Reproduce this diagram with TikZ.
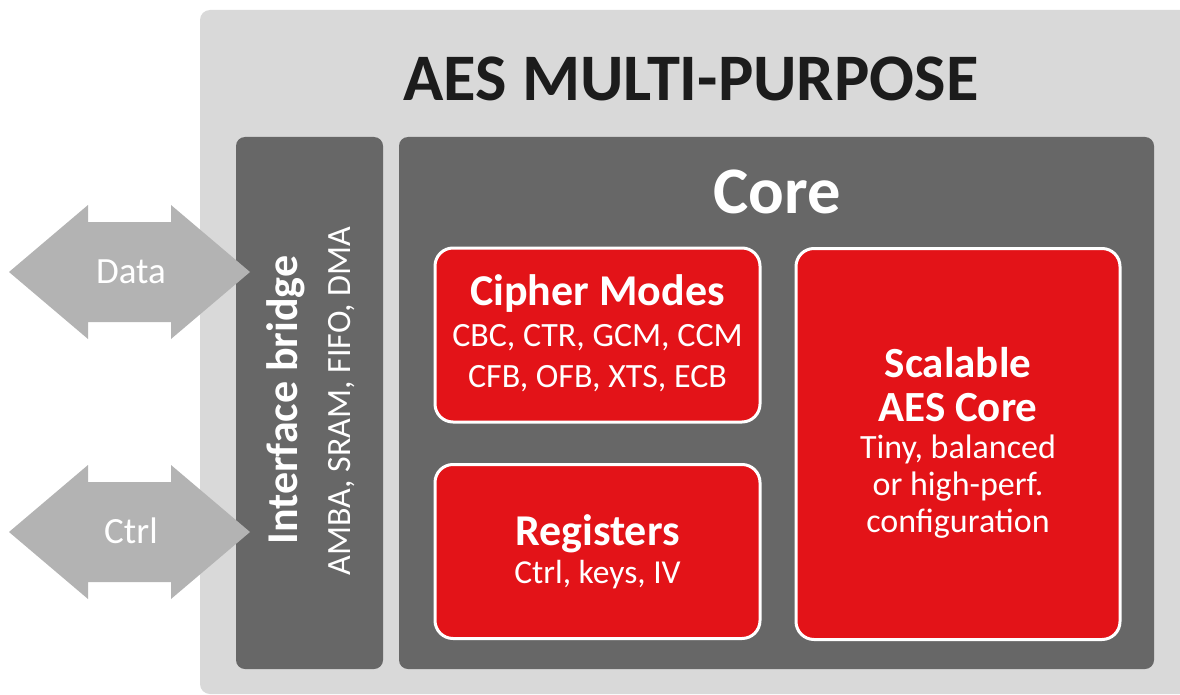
\documentclass[tikz,border=0pt]{standalone}
\usepackage{fontspec}
\setmainfont{Carlito}
\definecolor{panel}{HTML}{D9D9D9}
\definecolor{block}{HTML}{676767}
\definecolor{accent}{HTML}{E31318}
\definecolor{port}{HTML}{B3B3B3}
\definecolor{heading}{HTML}{1C1C1C}
\newcommand{\fs}[2]{\fontsize{#1}{#2}\selectfont}
\tikzset{
  darkbox/.style={fill=block, draw=none, rounded corners=9pt, inner sep=0pt},
  redbox/.style={fill=accent, draw=white, line width=3pt, rounded corners=18pt, inner sep=0pt},
  boxtext/.style={text=white, align=center, anchor=base, inner sep=0pt},
  porttext/.style={text=white, font=\fs{37}{40}, anchor=base, inner sep=0pt},
}
\begin{document}
\begin{tikzpicture}[x=1pt, y=-1pt]
  \useasboundingbox (0,0) rectangle (1180,695);
  \clip (0,0) rectangle (1180,695);

  % outer light panel
  \fill[panel, rounded corners=10pt] (200,10) rectangle (1200,694);
  \node[text=heading, font=\fs{66.5}{70}\bfseries, anchor=base, inner sep=0pt]
    (title) at (691,101) {AES MULTI-PURPOSE};

  % interface bridge column
  \node[darkbox, minimum width=147pt, minimum height=532pt] (bridge) at (309.5,403) {};
  \node[rotate=90, text=white, font=\fs{44}{46}\bfseries, anchor=base, inner sep=0pt]
    (bridgetitle) at (297,400) {Interface bridge};
  \node[rotate=90, text=white, font=\fs{34}{40}, anchor=base, inner sep=0pt]
    (bridgesub) at (350,401) {AMBA, SRAM, FIFO, DMA};

  % core block
  \node[darkbox, minimum width=755pt, minimum height=532pt] (core) at (776.5,403) {};
  \node[text=white, font=\fs{66.5}{70}\bfseries, anchor=base, inner sep=0pt]
    (coretitle) at (777,213) {Core};

  % red function blocks (text nodes are placed by the baseline of their last line)
  \node[redbox, minimum width=325pt, minimum height=174pt] (modes) at (597.5,335) {};
  \node[boxtext, font=\fs{34}{41}] (modestext) at (597.5,387)
    {{\fs{44}{41}\bfseries Cipher Modes}\\
     CBC, CTR, GCM, CCM\\
     CFB, OFB, XTS, ECB};

  \node[redbox, minimum width=325pt, minimum height=174pt] (regs) at (597.5,551.5) {};
  \node[boxtext, font=\fs{33.5}{38}] (regstext) at (597.5,583)
    {{\fs{44}{38}\bfseries Registers}\\
     Ctrl, keys, IV};

  \node[redbox, minimum width=324pt, minimum height=391pt] (aes) at (958,444) {};
  \node[boxtext, font=\fs{34}{37}] (aestext) at (958,532)
    {{\fs{43}{37}\bfseries Scalable}\\[7pt]
     {\fs{43}{37}\bfseries AES Core}\\
     Tiny, balanced\\
     or high-perf.\\
     configuration};

  % bidirectional ports
  \fill[port] (9,272) -- (88,205) -- (88,222) -- (171,222) -- (171,205) -- (250,272)
    -- (171,339) -- (171,322) -- (88,322) -- (88,339) -- cycle;
  \node[porttext] (data) at (131,283) {Data};

  \fill[port] (9,532) -- (88,465) -- (88,482) -- (171,482) -- (171,465) -- (250,532)
    -- (171,599) -- (171,582) -- (88,582) -- (88,599) -- cycle;
  \node[porttext] (ctrl) at (131,543) {Ctrl};
\end{tikzpicture}
\end{document}
